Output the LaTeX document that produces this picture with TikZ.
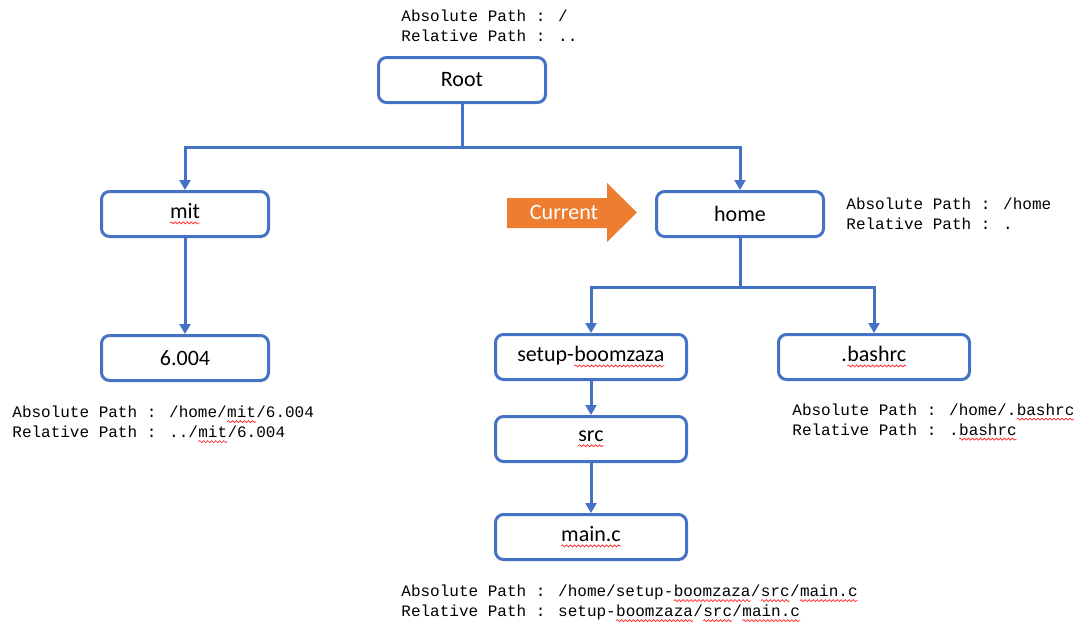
\documentclass[tikz,border=0pt]{standalone}
\usepackage{fontspec}
\usetikzlibrary{arrows.meta,decorations.pathmorphing}
\newfontfamily\boxfont{Carlito}
\newfontfamily\pathfont{Liberation Mono}
\definecolor{boxblue}{HTML}{4472C4}
\definecolor{curorange}{HTML}{ED7D31}
\newcommand\typo[1]{\tikz[baseline=(tw.base), sharp corners]{\node[inner sep=0pt, outer sep=0pt, minimum size=0pt, draw=none, fill=none] (tw) {#1};
	\draw[red!85!white, line width=0.35pt, sharp corners, decorate, decoration={snake, amplitude=0.5pt, segment length=2pt}] ([yshift=-2pt]tw.base west)--([yshift=-2pt]tw.base east);}}
\begin{document}
\begin{tikzpicture}[x=0.5pt, y=-0.5pt, line join=miter, >={Triangle[width=5.5pt,length=5pt]},
	dirbox/.style={draw=boxblue, line width=1.5pt, rounded corners=4pt, fill=white, minimum width=83.5pt, minimum height=22.5pt, inner sep=0pt, font=\boxfont\fontsize{11}{13}\selectfont},
	widebox/.style={dirbox, minimum width=95.5pt},
	link/.style={draw=boxblue, line width=1.5pt},
	pathtext/.style={font=\pathfont\fontsize{8}{10}\selectfont, align=left, anchor=west, inner sep=0pt}]
	\useasboundingbox (0,0) rectangle (1078,628);
	\node[dirbox] (root) at (462,80) {Root};
	\node[dirbox] (mit) at (185,214) {\typo{mit}};
	\node[dirbox] (six) at (185,358) {6.004};
	\node[dirbox] (home) at (740,214) {home};
	\node[widebox] (setup) at (591,357) {setup-\typo{boomzaza}};
	\node[widebox] (bash) at (874,357) {.\typo{bashrc}};
	\node[widebox] (src) at (591,439) {\typo{src}};
	\node[widebox] (main) at (591,537) {\typo{main.c}};
	\coordinate (rj) at (462,147);
	\coordinate (hj) at (740,287);
	\draw[link] (root.south)--(rj);
	\draw[link,->] (rj)-|(mit.north);
	\draw[link,->] (rj)-|(home.north);
	\draw[link,->] (mit.south)--(six.north);
	\draw[link] (home.south)--(hj);
	\draw[link,->] (hj)-|(setup.north);
	\draw[link,->] (hj)-|(bash.north);
	\draw[link,->] (setup.south)--(src.north);
	\draw[link,->] (src.south)--(main.north);
	\fill[curorange] (507,198)--(607,198)--(607,183)--(637,212.5)--(607,242)--(607,228)--(507,228)--cycle;
	\node[text=white, font=\boxfont\fontsize{11}{13}\selectfont] (cur) at (564,212) {Current};
	\node[pathtext] (rootpath) at (401,26) {Absolute Path : /\\Relative Path : ..};
	\node[pathtext] (homepath) at (846,213.5) {Absolute Path : /home\\Relative Path : .};
	\node[pathtext] (sixpath) at (12,424.5) {Absolute Path : /home/\typo{mit}/6.004\\Relative Path : ../\typo{mit}/6.004};
	\node[pathtext] (bashpath) at (792,422) {Absolute Path : /home/.\typo{bashrc}\\Relative Path : .\typo{bashrc}};
	\node[pathtext] (mainpath) at (401,603.5) {Absolute Path : /home/setup-\typo{boomzaza}/\typo{src}/\typo{main.c}\\Relative Path : setup-\typo{boomzaza}/\typo{src}/\typo{main.c}};
\end{tikzpicture}
\end{document}
